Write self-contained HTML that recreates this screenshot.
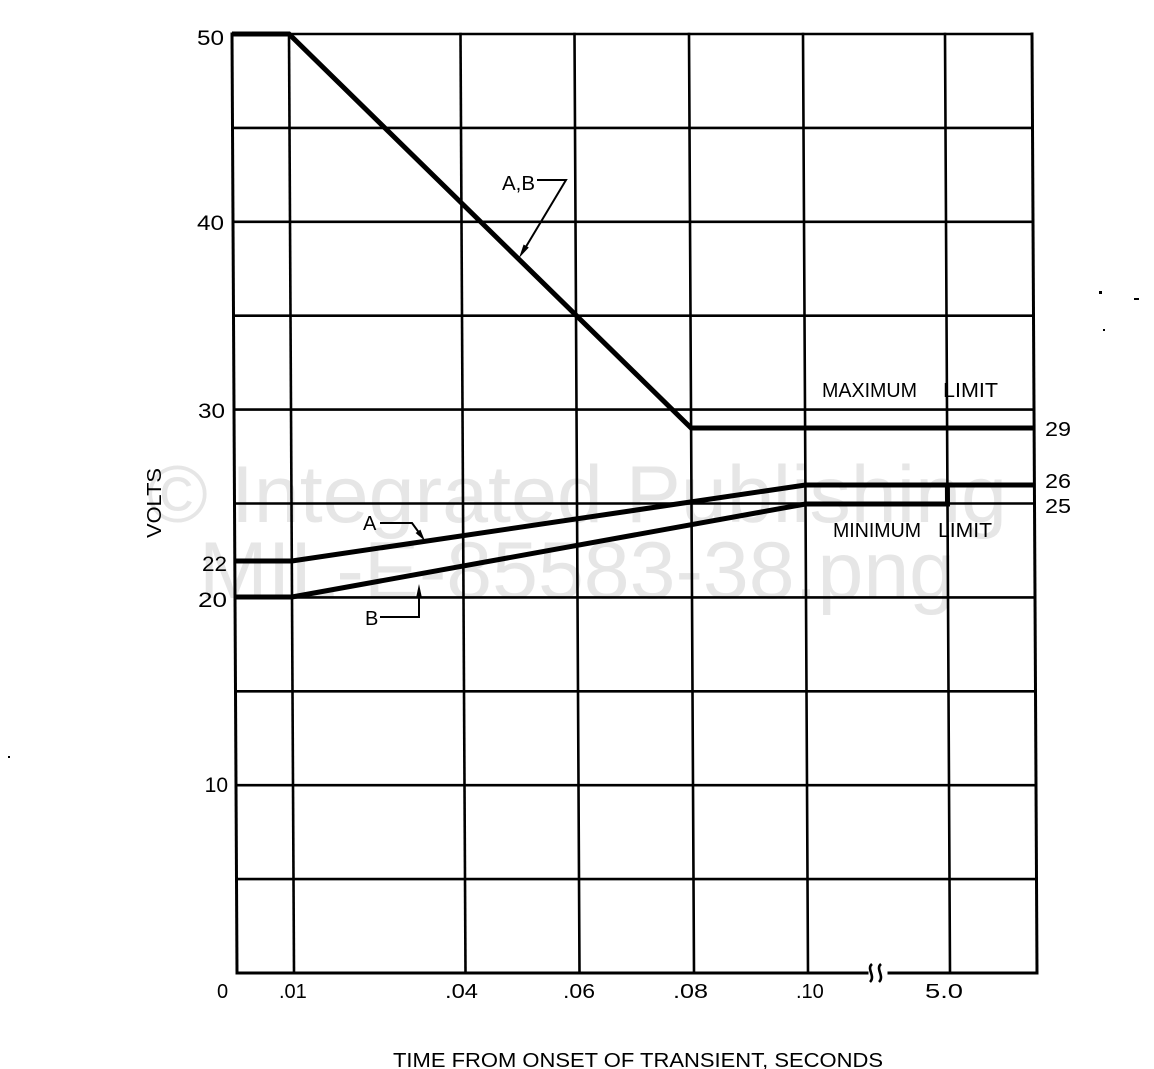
<!DOCTYPE html>
<html>
<head>
<meta charset="utf-8">
<style>
html,body{margin:0;padding:0;background:#fff;}
svg{display:block;}
text{font-family:"Liberation Sans",sans-serif;fill:#000;}
</style>
</head>
<body>
<svg width="1154" height="1069" viewBox="0 0 1154 1069" xmlns="http://www.w3.org/2000/svg">
<rect width="1154" height="1069" fill="#fff"/>

<!-- watermark -->
<text x="147" y="522" font-size="81" textLength="860" lengthAdjust="spacingAndGlyphs" style="fill:#e6e6e6">© Integrated Publishing</text>
<text x="199" y="598" font-size="81" textLength="756" lengthAdjust="spacingAndGlyphs" style="fill:#e6e6e6">MIL-E-85583-38.png</text>

<g transform="translate(-0.18 0) skewX(0.305)" stroke="#000" fill="none" stroke-linecap="square">
  <!-- horizontal grid -->
  <g stroke-width="2.6">
    <line x1="232" y1="34" x2="1032" y2="34"/>
    <line x1="232" y1="127.9" x2="1032" y2="127.9"/>
    <line x1="232" y1="221.8" x2="1032" y2="221.8"/>
    <line x1="232" y1="315.7" x2="1032" y2="315.7"/>
    <line x1="232" y1="409.6" x2="1032" y2="409.6"/>
    <line x1="232" y1="503.5" x2="1032" y2="503.5"/>
    <line x1="232" y1="597.4" x2="1032" y2="597.4"/>
    <line x1="232" y1="691.3" x2="1032" y2="691.3"/>
    <line x1="232" y1="785.2" x2="1032" y2="785.2"/>
    <line x1="232" y1="879.1" x2="1032" y2="879.1"/>
    <line x1="232" y1="973" x2="862" y2="973" stroke-width="3"/>
    <line x1="884" y1="973" x2="1032" y2="973" stroke-width="3"/>
  </g>
  <!-- vertical grid -->
  <g stroke-width="2.6">
    <line x1="232" y1="34" x2="232" y2="973" stroke-width="3"/>
    <line x1="289" y1="34" x2="289" y2="973"/>
    <line x1="460.5" y1="34" x2="460.5" y2="973"/>
    <line x1="574.5" y1="34" x2="574.5" y2="973"/>
    <line x1="689" y1="34" x2="689" y2="973"/>
    <line x1="803" y1="34" x2="803" y2="973"/>
    <line x1="945" y1="34" x2="945" y2="973"/>
    <line x1="1032" y1="34" x2="1032" y2="973" stroke-width="3"/>
  </g>
  <!-- curves -->
  <g stroke-width="5" stroke-linejoin="miter" stroke-linecap="butt">
    <polyline points="232,34 289,34 689,428 1033,428"/>
    <polyline points="232,561 289,561 803,485 1033,485"/>
    <polyline points="232,597 289,597 803,504 945,504 945,483"/>
  </g>
</g>

<!-- axis break symbol -->
<g stroke="#000" stroke-width="2.6" fill="none">
  <path d="M872,964 C866,969 876,976 870,982"/>
  <path d="M881,964 C875,969 885,976 879,982"/>
</g>

<!-- leaders & arrows -->
<g stroke="#000" stroke-width="2" fill="none">
  <polyline points="537,180 566,180 524,250"/>
  <polyline points="380,523 412,523 420,534"/>
  <polyline points="380,617 419,617 419,594"/>
</g>
<g fill="#000" stroke="none">
  <polygon points="519,258 528.8,247.5 523.6,244.5"/>
  <polygon points="425,541 420.4,529.6 415.6,533"/>
  <polygon points="419,584 416,598 422,598"/>
</g>

<!-- y tick labels -->
<g font-size="21" text-anchor="end">
  <text x="224" y="45" textLength="27" lengthAdjust="spacingAndGlyphs">50</text>
  <text x="224" y="230" textLength="27" lengthAdjust="spacingAndGlyphs">40</text>
  <text x="225" y="418" textLength="27" lengthAdjust="spacingAndGlyphs">30</text>
  <text x="227" y="571" textLength="25" lengthAdjust="spacingAndGlyphs">22</text>
  <text x="227" y="607" textLength="29" lengthAdjust="spacingAndGlyphs">20</text>
  <text x="228" y="792">10</text>
</g>

<!-- x tick labels -->
<g font-size="20">
  <text x="217" y="998">0</text>
  <text x="279" y="998">.01</text>
  <text x="445" y="998" textLength="33" lengthAdjust="spacingAndGlyphs">.04</text>
  <text x="563" y="998" textLength="32" lengthAdjust="spacingAndGlyphs">.06</text>
  <text x="673" y="998" textLength="35" lengthAdjust="spacingAndGlyphs">.08</text>
  <text x="796" y="998">.10</text>
  <text x="925" y="998" textLength="38" lengthAdjust="spacingAndGlyphs">5.0</text>
</g>

<!-- axis titles -->
<text x="393" y="1067" font-size="20" textLength="490" lengthAdjust="spacingAndGlyphs">TIME  FROM  ONSET  OF  TRANSIENT, SECONDS</text>
<text transform="translate(161 538) rotate(-90)" x="0" y="0" font-size="20" textLength="70" lengthAdjust="spacingAndGlyphs">VOLTS</text>

<!-- annotations -->
<g font-size="20">
  <text x="822" y="397" textLength="95" lengthAdjust="spacingAndGlyphs">MAXIMUM</text>
  <text x="943" y="397" textLength="55" lengthAdjust="spacingAndGlyphs">LIMIT</text>
  <text x="833" y="537" textLength="88" lengthAdjust="spacingAndGlyphs">MINIMUM</text>
  <text x="938" y="537" textLength="54" lengthAdjust="spacingAndGlyphs">LIMIT</text>
  <text x="1045" y="436" textLength="26" lengthAdjust="spacingAndGlyphs">29</text>
  <text x="1045" y="488" textLength="26" lengthAdjust="spacingAndGlyphs">26</text>
  <text x="1045" y="513" textLength="26" lengthAdjust="spacingAndGlyphs">25</text>
  <text x="502" y="190" textLength="33" lengthAdjust="spacingAndGlyphs">A,B</text>
  <text x="363" y="530">A</text>
  <text x="365" y="625">B</text>
</g>

<!-- stray specks -->
<g fill="#000">
  <rect x="1099" y="291" width="3" height="3"/>
  <rect x="1134" y="298" width="5" height="2"/>
  <rect x="1103" y="329" width="2" height="2"/>
  <rect x="8" y="756" width="2" height="2"/>
</g>
</svg>
</body>
</html>
